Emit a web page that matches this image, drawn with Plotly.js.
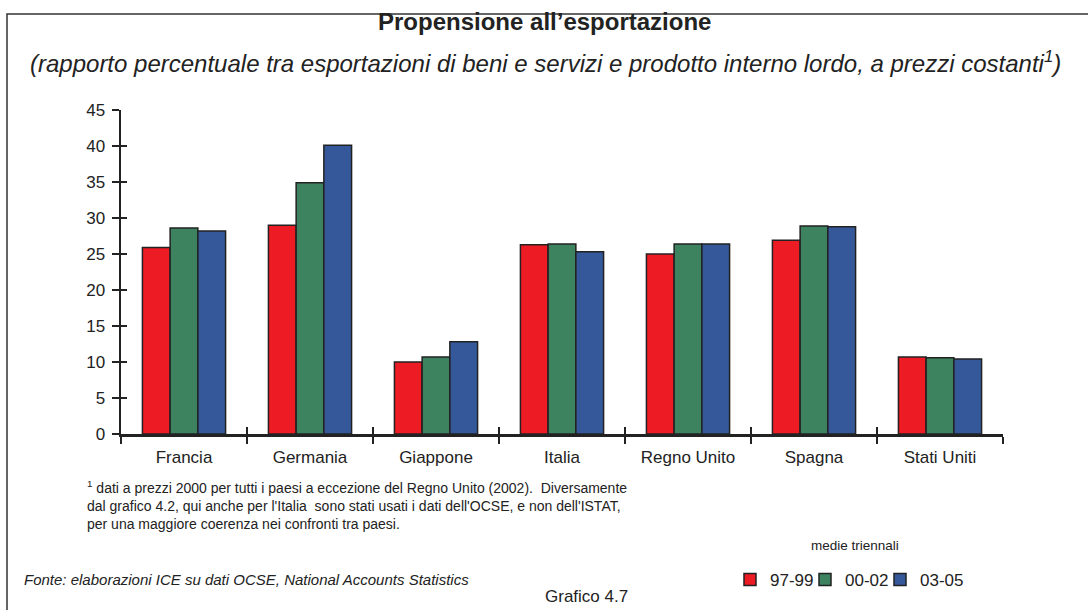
<!DOCTYPE html>
<html>
<head>
<meta charset="utf-8">
<script src="https://cdn.plot.ly/plotly-3.0.1.min.js"></script>
<style>html,body{margin:0;padding:0;background:#fff;}#chart{width:1088px;height:610px;}</style>
</head>
<body>
<div id="chart"></div>
<script>
const categories = ["Francia", "Germania", "Giappone", "Italia", "Regno Unito", "Spagna", "Stati Uniti"];
const seriesNames = ["97-99", "00-02", "03-05"];
const v9799 = [25.9, 29.0, 10.0, 26.3, 25.0, 26.9, 10.7];
const v0002 = [28.6, 34.9, 10.7, 26.4, 26.4, 28.9, 10.6];
const v0305 = [28.2, 40.1, 12.8, 25.3, 26.4, 28.8, 10.4];
const yTicks = [0, 5, 10, 15, 20, 25, 30, 35, 40, 45];

const colors = ["#ED1C24", "#3E8360", "#34589A"];
const W = 1088, H = 610, L = 121, R = 85, T = 110, B = 176;
const pw = W - L - R, ph = H - T - B;
const px = x => (x - L) / pw;
const py = y => (H - B - y) / ph;
const FONT = "Liberation Sans, Arial, sans-serif";
const legendNames = ["legend", "legend2", "legend3"];
const legendX = [730, 805, 880];

const data = [v9799, v0002, v0305].map((vals, i) => ({
  type: "bar", x: categories, y: vals, name: seriesNames[i], legend: legendNames[i],
  marker: {color: colors[i], line: {color: "#222", width: 1.5}},
  hoverinfo: "skip"
}));
data.push({type: "scatter", x: [0], y: [0], xaxis: "x2", yaxis: "y2", mode: "markers",
  marker: {opacity: 0}, showlegend: false, hoverinfo: "skip"});

const legendStyle = x => ({orientation: "h", x: px(x), y: py(580), xanchor: "left", yanchor: "middle",
  font: {size: 17, family: FONT, color: "#222"}, itemwidth: 30,
  bgcolor: "rgba(0,0,0,0)"});

const layout = {
  width: W, height: H,
  margin: {l: L, r: R, t: T, b: B, autoexpand: false},
  paper_bgcolor: "#fff", plot_bgcolor: "rgba(0,0,0,0)",
  font: {family: FONT, color: "#222"},
  barmode: "group", bargap: 0.34, bargroupgap: 0,
  showlegend: true,
  legend: legendStyle(legendX[0]),
  legend2: legendStyle(legendX[1]),
  legend3: legendStyle(legendX[2]),
  xaxis: {type: "category", tickson: "boundaries", ticks: "outside", ticklen: 7, tickwidth: 2.5,
    tickcolor: "#222", showline: true, linecolor: "#222", linewidth: 2.5, showgrid: false,
    zeroline: false, tickfont: {size: 17, family: FONT, color: "#222"}, ticklabelstandoff: 6,
    range: [-0.5, 6.5], fixedrange: true},
  yaxis: {range: [0, 45], tickvals: yTicks, ticktext: yTicks.map(String), ticks: "outside",
    ticklen: 7, tickwidth: 2.5, tickcolor: "#222", showline: true, linecolor: "#222", linewidth: 2.5,
    showgrid: false, zeroline: false, tickfont: {size: 17, family: FONT, color: "#222"},
    ticklabelstandoff: 3, fixedrange: true},
  xaxis2: {overlaying: "x", range: [-0.5, 6.5], tickvals: [0.5, 1.5, 2.5, 3.5, 4.5, 5.5, 6.5],
    ticks: "inside", ticklen: 7, tickwidth: 2.5, tickcolor: "#222", showticklabels: false,
    showline: false, showgrid: false, zeroline: false, anchor: "y2", fixedrange: true},
  yaxis2: {overlaying: "y", range: [0, 45], tickvals: yTicks, ticks: "inside", ticklen: 6,
    tickwidth: 2.5, tickcolor: "#222", showticklabels: false, showline: false, showgrid: false,
    zeroline: false, anchor: "x2", fixedrange: true},
  shapes: [
    {type: "rect", xref: "paper", yref: "paper", x0: px(7), x1: px(1100), y0: py(14), y1: py(625),
     line: {color: "#333", width: 1.5}, fillcolor: "rgba(0,0,0,0)", layer: "below"}
  ],
  annotations: [
    {text: "<b>Propensione all’esportazione</b>", x: px(544), y: py(22), font: {size: 24}},
    {text: "<i>(rapporto percentuale tra esportazioni di beni e servizi e prodotto interno lordo, a prezzi costanti<sup>1</sup>)</i>",
     x: px(545), y: py(62), font: {size: 24}},
    {text: "<sup>1</sup> dati a prezzi 2000 per tutti i paesi a eccezione del Regno Unito (2002).  Diversamente<br>dal grafico 4.2, qui anche per l'Italia  sono stati usati i dati dell'OCSE, e non dell'ISTAT,<br>per una maggiore coerenza nei confronti tra paesi.",
     x: px(85), y: py(505), xanchor: "left", align: "left", font: {size: 14}},
    {text: "<i>Fonte: elaborazioni ICE su dati OCSE, National Accounts Statistics</i>",
     x: px(22), y: py(579), xanchor: "left", font: {size: 15}},
    {text: "Grafico 4.7", x: px(586), y: py(596), font: {size: 17}},
    {text: "medie triennali", x: px(855), y: py(545), font: {size: 13.5}}
  ].map(a => Object.assign({xref: "paper", yref: "paper", showarrow: false, xanchor: "center", yanchor: "middle"}, a,
      {font: Object.assign({family: FONT, color: "#222"}, a.font)}))
};

Plotly.newPlot("chart", data, layout, {displayModeBar: false, staticPlot: true});
</script>
</body>
</html>
